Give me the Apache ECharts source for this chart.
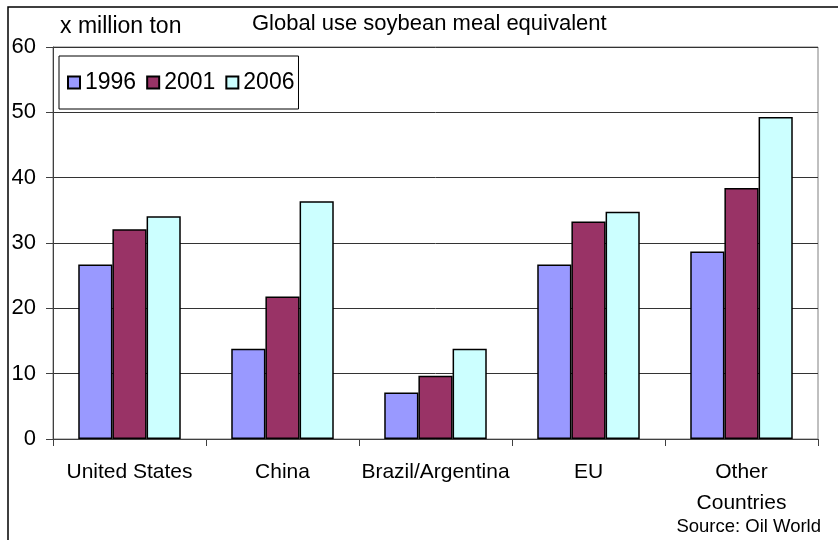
<!DOCTYPE html>
<html>
<head>
<meta charset="utf-8">
<script src="https://cdn.jsdelivr.net/npm/echarts@6/dist/echarts.min.js"></script>
<style>
html,body{margin:0;padding:0;background:#fff;}
#chart{width:838px;height:540px;}
</style>
</head>
<body>
<div id="chart"></div>
<script>
var categories = ['United States', 'China', 'Brazil/Argentina', 'EU', 'Other Countries'];
var seriesNames = ['1996', '2001', '2006'];
var values1996 = [26.7, 13.8, 7.1, 26.7, 28.7];
var values2001 = [32.1, 21.8, 9.7, 33.3, 38.4];
var values2006 = [34.1, 36.4, 13.8, 34.8, 49.3];
var yTicks = [0, 10, 20, 30, 40, 50, 60];

var FONT = '"Liberation Sans", Arial, sans-serif';
var colors = ['#9999FF', '#993366', '#CCFFFF'];
var seriesValues = [values1996, values2001, values2006];

var chart = echarts.init(document.getElementById('chart'), null, {renderer: 'canvas'});

var series = seriesNames.map(function (name, i) {
  return {
    name: name,
    type: 'bar',
    data: seriesValues[i],
    barGap: '0%',
    barCategoryGap: '33%',
    itemStyle: {color: colors[i], borderColor: '#000', borderWidth: 1.5},
    emphasis: {disabled: true}
  };
});

chart.setOption({
  animation: false,
  backgroundColor: '#fff',
  textStyle: {fontFamily: FONT, color: '#000'},
  grid: {
    left: 53, right: 20, top: 47, bottom: 101,
    show: true, borderColor: '#808080', borderWidth: 1, backgroundColor: 'transparent'
  },
  legend: {
    data: seriesNames,
    left: 59, top: 56,
    padding: [15, 4, 15, 8],
    itemWidth: 12, itemHeight: 12,
    itemGap: 10,
    icon: 'rect',
    borderColor: '#000', borderWidth: 1,
    backgroundColor: '#fff',
    textStyle: {fontFamily: FONT, fontSize: 23, color: '#000'}
  },
  xAxis: {
    type: 'category',
    data: categories,
    axisLine: {show: true, lineStyle: {color: '#404040', width: 1}},
    axisTick: {show: true, length: 7, lineStyle: {color: '#404040'}},
    axisLabel: {
      fontFamily: FONT, fontSize: 21, color: '#000',
      margin: 18, lineHeight: 31, interval: 0,
      formatter: function (v) { return v === 'Other Countries' ? 'Other\nCountries' : v; }
    },
    splitLine: {show: false}
  },
  yAxis: {
    type: 'value',
    min: yTicks[0], max: yTicks[yTicks.length - 1], interval: 10,
    axisLine: {show: true, lineStyle: {color: '#404040', width: 1}},
    axisTick: {show: true, length: 7, lineStyle: {color: '#404040'}},
    axisLabel: {fontFamily: FONT, fontSize: 22, color: '#000', margin: 17},
    splitLine: {show: true, lineStyle: {color: '#333', width: 1}}
  },
  series: series,
  graphic: [
    {
      type: 'rect', silent: true, z: 100,
      shape: {x: 8, y: 7, width: 900, height: 600},
      style: {fill: 'none', stroke: '#000', lineWidth: 1.5}
    },
    {
      type: 'text', silent: true,
      x: 252, y: 24,
      style: {text: 'Global use soybean meal equivalent', font: '22px ' + FONT, fill: '#000', textAlign: 'left', textVerticalAlign: 'middle'}
    },
    {
      type: 'text', silent: true,
      x: 60, y: 27,
      style: {text: 'x million ton', font: '23px ' + FONT, fill: '#000', textAlign: 'left', textVerticalAlign: 'middle'}
    },
    {
      type: 'text', silent: true,
      x: 821, y: 527,
      style: {text: 'Source: Oil World', font: '18.5px ' + FONT, fill: '#000', textAlign: 'right', textVerticalAlign: 'middle'}
    }
  ]
});
</script>
</body>
</html>
